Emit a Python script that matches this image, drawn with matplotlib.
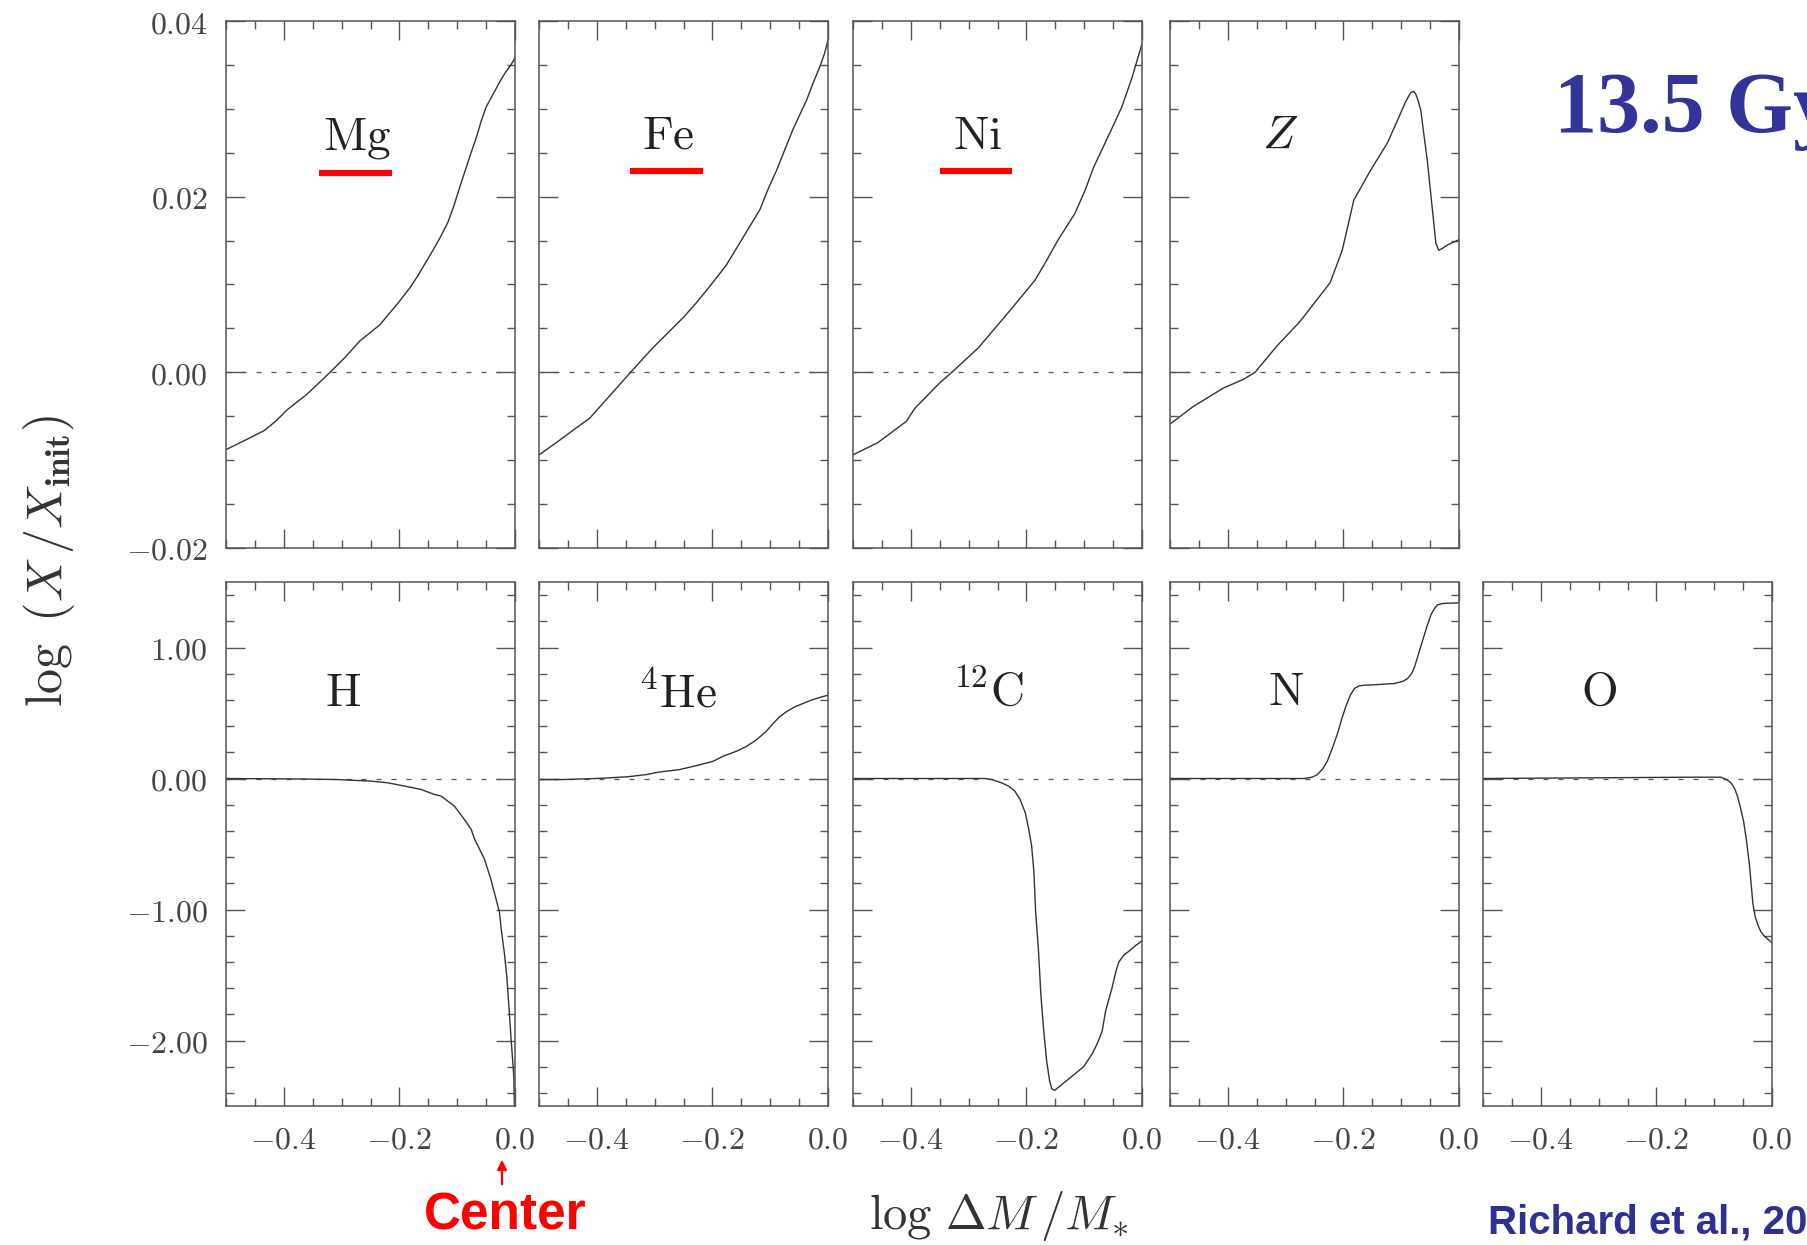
import numpy as np
import matplotlib
matplotlib.use('Agg')
import matplotlib.pyplot as plt
from matplotlib.patches import FancyArrowPatch
from matplotlib.ticker import MultipleLocator, FuncFormatter

# ── Style ─────────────────────────────────────────────────────────────────────
plt.rcParams.update({
    'mathtext.fontset': 'cm',
    'font.family': 'serif',
    'font.serif': ['DejaVu Serif'],
    'axes.linewidth': 1.1,
    'axes.edgecolor': '#555555',
})

AX_COLOR = '#555555'
LINE_COLOR = '#333333'
BLUE = '#333399'

# ── Data: log(X/X_init) vs log(ΔM/M*) ────────────────────────────────────────
mg_x = [-0.5, -0.466, -0.433, -0.413, -0.393, -0.360, -0.320, -0.294, -0.268,
        -0.234, -0.201, -0.181, -0.168, -0.142, -0.129, -0.116, -0.106, -0.096,
        -0.086, -0.076, -0.066, -0.059, -0.050, -0.036, -0.027, -0.017, -0.007, 0.0]
mg_y = [-0.0088, -0.0077, -0.0066, -0.0055, -0.0042, -0.0025, 0.0, 0.0017,
        0.0036, 0.0054, 0.0080, 0.0097, 0.0110, 0.0139, 0.0154, 0.0171, 0.0189,
        0.0210, 0.0230, 0.0250, 0.0269, 0.0285, 0.0302, 0.0319, 0.0330, 0.0341,
        0.0350, 0.0358]

fe_x = [-0.5, -0.470, -0.435, -0.412, -0.378, -0.343, -0.303, -0.251, -0.228,
        -0.202, -0.176, -0.153, -0.118, -0.104, -0.089, -0.075, -0.061, -0.037,
        -0.026, -0.014, -0.006, 0.0]
fe_y = [-0.0094, -0.0080, -0.0063, -0.0052, -0.0027, -0.0001, 0.0028, 0.0062,
        0.0079, 0.0100, 0.0122, 0.0147, 0.0185, 0.0208, 0.0230, 0.0253, 0.0276,
        0.0310, 0.0329, 0.0348, 0.0363, 0.0378]

ni_x = [-0.5, -0.457, -0.408, -0.393, -0.350, -0.329, -0.283, -0.225, -0.185,
        -0.168, -0.145, -0.116, -0.098, -0.084, -0.064, -0.049, -0.035, -0.017, 0.0]
ni_y = [-0.0094, -0.0080, -0.0056, -0.0041, -0.0012, 0.0, 0.0028, 0.0073,
        0.0105, 0.0124, 0.0151, 0.0181, 0.0208, 0.0233, 0.0261, 0.0282, 0.0302,
        0.0336, 0.0374]

z_x = [-0.5, -0.460, -0.408, -0.373, -0.353, -0.315, -0.275, -0.223, -0.202,
       -0.182, -0.153, -0.124, -0.101, -0.0925, -0.084, -0.0786, -0.075, -0.071,
       -0.066, -0.061, -0.055, -0.049, -0.043, -0.040, -0.035, -0.029, -0.020, 0.0]
z_y = [-0.0059, -0.0039, -0.0018, -0.0008, 0.0, 0.0030, 0.0058, 0.0102, 0.0139,
       0.0196, 0.0230, 0.0261, 0.0295, 0.0308, 0.0318, 0.0320, 0.0317, 0.0310,
       0.0298, 0.0272, 0.0242, 0.0204, 0.0166, 0.0147, 0.0139, 0.0141, 0.0145,
       0.0151]

h_x = [-0.5, -0.364, -0.307, -0.249, -0.220, -0.191, -0.163, -0.140, -0.128,
       -0.105, -0.088, -0.076, -0.070, -0.053, -0.042, -0.036, -0.033, -0.027,
       -0.024, -0.018, -0.014, -0.010, -0.007, -0.004, -0.002, -0.001]
h_y = [0.0, -0.004, -0.008, -0.02, -0.033, -0.058, -0.083, -0.121, -0.134,
       -0.21, -0.31, -0.386, -0.462, -0.614, -0.765, -0.866, -0.917, -1.018,
       -1.144, -1.346, -1.523, -1.775, -1.977, -2.154, -2.28, -2.5]

he_x = [-0.5, -0.458, -0.401, -0.347, -0.314, -0.294, -0.257, -0.228, -0.199,
        -0.182, -0.159, -0.141, -0.124, -0.107, -0.095, -0.084, -0.072, -0.057,
        -0.043, -0.029, -0.014, 0.0]
he_y = [-0.008, -0.008, 0.0, 0.013, 0.03, 0.048, 0.068, 0.098, 0.131, 0.169,
        0.207, 0.245, 0.295, 0.359, 0.42, 0.47, 0.51, 0.548, 0.573, 0.598,
        0.619, 0.636]

c_x = [-0.5, -0.272, -0.260, -0.243, -0.231, -0.220, -0.211, -0.202, -0.196,
       -0.191, -0.187, -0.184, -0.179, -0.175, -0.170, -0.165, -0.160, -0.156,
       -0.151, -0.137, -0.123, -0.101, -0.086, -0.078, -0.069, -0.063, -0.052,
       -0.045, -0.040, -0.031, -0.023, -0.012, 0.0]
c_y = [0.0, 0.0, -0.008, -0.033, -0.058, -0.096, -0.159, -0.26, -0.386, -0.513,
       -0.715, -1.018, -1.32, -1.649, -1.927, -2.154, -2.305, -2.37, -2.38,
       -2.33, -2.28, -2.20, -2.10, -2.03, -1.93, -1.775, -1.60, -1.47, -1.40,
       -1.346, -1.32, -1.278, -1.24]

n_x = [-0.5, -0.268, -0.254, -0.245, -0.236, -0.228, -0.219, -0.210, -0.203,
       -0.196, -0.188, -0.181, -0.173, -0.164, -0.141, -0.112, -0.097, -0.089,
       -0.082, -0.077, -0.070, -0.063, -0.055, -0.048, -0.042, -0.037, -0.028,
       -0.019, 0.0]
n_y = [0.0, 0.0, 0.01, 0.03, 0.073, 0.131, 0.232, 0.346, 0.452, 0.548, 0.636,
       0.687, 0.707, 0.712, 0.717, 0.725, 0.742, 0.763, 0.80, 0.851, 0.952,
       1.053, 1.167, 1.255, 1.30, 1.326, 1.336, 1.338, 1.341]

o_x = [-0.5, -0.133, -0.089, -0.079, -0.071, -0.065, -0.060, -0.055, -0.049,
       -0.044, -0.039, -0.035, -0.033, -0.029, -0.024, -0.019, -0.013, -0.006, 0.0]
o_y = [0.0, 0.01, 0.01, -0.007, -0.033, -0.073, -0.132, -0.215, -0.33, -0.479,
       -0.66, -0.858, -0.957, -1.056, -1.122, -1.172, -1.205, -1.231, -1.254]

top_labels = [r'$\mathrm{Mg}$', r'$\mathrm{Fe}$', r'$\mathrm{Ni}$', r'$Z$']
bottom_labels = [r'$\mathrm{H}$', r'$^{4}\mathrm{He}$', r'$^{12}\mathrm{C}$',
                 r'$\mathrm{N}$', r'$\mathrm{O}$']
top_series = [(mg_x, mg_y), (fe_x, fe_y), (ni_x, ni_y), (z_x, z_y)]
bottom_series = [(h_x, h_y), (he_x, he_y), (c_x, c_y), (n_x, n_y), (o_x, o_y)]
underlined = [True, True, True, False]

top_label_pos = [(0.453, 0.778), (0.446, 0.782), (0.43, 0.782), (0.38, 0.782)]
bottom_label_pos = [(0.405, 0.788), (0.48, 0.785), (0.465, 0.788),
                    (0.40, 0.79), (0.40, 0.79)]

# ── Figure ────────────────────────────────────────────────────────────────────
W, H = 1807, 1245
fig = plt.figure(figsize=(W / 100, H / 100), dpi=100)

col_left = [226, 539, 853, 1170, 1483]
col_w = 289
top_rect = (21, 548)
bot_rect = (582, 1106)


def fmt(dec):
    def f(v, pos):
        if abs(v) < 1e-9:
            v = 0.0
        return f'${v:.{dec}f}$'
    return FuncFormatter(f)


def make_axes(left_px, top_px, bottom_px):
    return fig.add_axes([left_px / W, 1 - bottom_px / H, col_w / W,
                         (bottom_px - top_px) / H])


def style(ax, ylim, ymaj, ymin, ydec, show_x, show_y):
    ax.set_xlim(-0.5, 0.0)
    ax.set_ylim(*ylim)
    ax.xaxis.set_major_locator(MultipleLocator(0.2))
    ax.xaxis.set_minor_locator(MultipleLocator(0.05))
    ax.yaxis.set_major_locator(MultipleLocator(ymaj))
    ax.yaxis.set_minor_locator(MultipleLocator(ymin))
    ax.xaxis.set_major_formatter(fmt(1))
    ax.yaxis.set_major_formatter(fmt(ydec))
    ax.tick_params(which='both', direction='in', top=True, right=True,
                   color=AX_COLOR, width=1.0, labelcolor='#444444',
                   labelsize=23)
    ax.tick_params(which='major', length=13.5, pad=13)
    ax.tick_params(which='minor', length=6)
    ax.tick_params(labelbottom=show_x, labelleft=show_y)
    ax.axhline(0.0, color=AX_COLOR, lw=0.9, ls=(0, (4, 8)), zorder=1)


for i, (sx, sy) in enumerate(top_series):
    ax = make_axes(col_left[i], *top_rect)
    style(ax, (-0.02, 0.04), 0.02, 0.005, 2, False, i == 0)
    ax.plot(sx, sy, color=LINE_COLOR, lw=1.0, zorder=2)
    lx, ly = top_label_pos[i]
    ax.text(lx, ly, top_labels[i], transform=ax.transAxes, ha='center',
            va='center', fontsize=34, color='#222222')
    if underlined[i]:
        ax.plot([lx - 0.13, lx + 0.12], [ly - 0.067, ly - 0.067],
                transform=ax.transAxes, color='red', lw=4.5,
                solid_capstyle='butt', clip_on=False)

for i, (sx, sy) in enumerate(bottom_series):
    ax = make_axes(col_left[i], *bot_rect)
    style(ax, (-2.5, 1.5), 1.0, 0.2, 2, True, i == 0)
    ax.plot(sx, sy, color=LINE_COLOR, lw=1.0, zorder=2)
    lx, ly = bottom_label_pos[i]
    ax.text(lx, ly, bottom_labels[i], transform=ax.transAxes, ha='center',
            va='center', fontsize=34, color='#222222')

# ── Axis labels and annotations ──────────────────────────────────────────────
fig.text(49 / W, 1 - 561 / H, r'$\log\ (X\,/X_{\mathbf{init}})$',
         rotation=90, ha='center', va='center', fontsize=36, color='#333333')
fig.text(999 / W, 1 - 1216 / H, r'$\log\,\Delta M\,/M_{*}$',
         ha='center', va='center', fontsize=35, color='#333333')

fig.text(505 / W, 1 - 1216 / H, 'Center', ha='center', va='center',
         fontsize=37, fontweight='bold', family='Liberation Sans', color='red')
fig.patches.append(FancyArrowPatch(
    (502 / W, 1 - 1187 / H), (502 / W, 1 - 1157 / H),
    transform=fig.transFigure, arrowstyle='-|>', mutation_scale=14,
    color='red', lw=1.6))

# titles are cut by the right edge in the original slide
fig.text(1554 / W, 1 - 132 / H, '13.5 Gy', ha='left', va='baseline',
         fontsize=62, fontweight='bold', family='Liberation Serif', color=BLUE)
fig.text(1488 / W, 1 - 1233 / H, 'Richard et al., 20', ha='left',
         va='baseline', fontsize=29, fontweight='bold',
         family='Liberation Sans', color='#2E3192')

fig.savefig('out.png', dpi=100)
